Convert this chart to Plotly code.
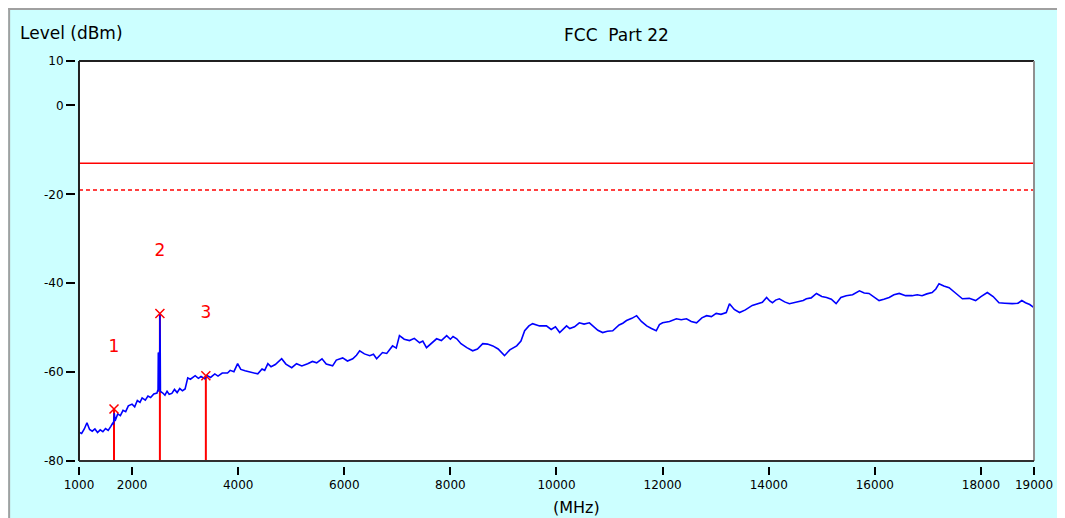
import plotly.graph_objects as go

# ---------------- data ----------------
freq_mhz = [1000, 1050, 1100, 1150, 1200, 1250, 1300, 1350, 1400, 1450, 1500, 1550, 1600, 1640,
            1650, 1655, 1660, 1665, 1680, 1730, 1780, 1830, 1880, 1930, 2000, 2050, 2100, 2150, 2190, 2250, 2300,
            2350, 2410, 2470, 2480, 2485, 2490, 2495, 2500, 2505, 2510, 2515, 2520, 2525, 2530, 2535, 2540,
            2580, 2620, 2660, 2700,
            2750, 2800, 2850, 2900, 2950, 3000, 3050, 3100, 3190, 3250, 3300, 3370, 3420, 3480,
            3560, 3620, 3700, 3800, 3850, 3920, 3990, 4050, 4130, 4200, 4280, 4370, 4450, 4500,
            4560, 4620, 4700, 4820, 4900, 5010, 5100, 5200, 5310, 5400, 5480, 5580, 5660, 5780,
            5850, 5970, 6060, 6160, 6230, 6290, 6380, 6480, 6550, 6610, 6720, 6800, 6910, 6980,
            7040, 7130, 7230, 7320, 7420, 7480, 7550, 7640, 7740, 7830, 7930, 8000, 8050, 8120,
            8200, 8310, 8420, 8510, 8610, 8700, 8800, 8900, 9020, 9120, 9250, 9330, 9400, 9480,
            9550, 9680, 9810, 9900, 9980, 10060, 10130, 10190, 10250, 10340, 10430, 10520, 10620,
            10700, 10780, 10870, 10960, 11060, 11180, 11250, 11320, 11420, 11510, 11600, 11700,
            11790, 11880, 11940, 12000, 12130, 12260, 12350, 12450, 12540, 12640, 12740, 12830,
            12920, 13010, 13100, 13200, 13260, 13350, 13450, 13560, 13690, 13800, 13880, 13960,
            14020, 14070, 14130, 14200, 14300, 14390, 14480, 14580, 14650, 14710, 14800, 14900,
            15000, 15090, 15180, 15270, 15360, 15460, 15580, 15710, 15800, 15890, 16000, 16080,
            16170, 16270, 16360, 16460, 16580, 16700, 16800, 16890, 16980, 17080, 17150, 17210,
            17300, 17400, 17520, 17650, 17780, 17900, 18000, 18120, 18230, 18340, 18450, 18590,
            18700, 18770, 18840, 18920, 19000]
level_dbm = [-73.5, -73.8, -72.8, -71.4, -72.9, -73.3, -72.8, -73.6, -73.0, -73.4, -72.7, -73.1, -72.2, -71.4,
             -71.8, -69.5, -71.5, -69.2, -71.0, -69.4, -69.8, -68.6, -68.9, -67.6, -67.2, -67.8, -66.4, -66.8, -65.8, -66.3, -65.4,
             -65.7, -64.9, -64.7, -64.3, -55.6, -64.4, -55.6, -64.2, -55.6, -64.0, -55.4, -64.0, -46.8, -53.6, -64.4, -64.4,
             -64.7, -65.2, -64.3, -65.0,
             -64.8, -63.9, -64.6, -63.7, -64.2, -63.8, -61.3, -61.6, -60.8, -61.4, -61.0, -61.5, -60.8, -61.2,
             -60.4, -60.9, -60.2, -60.2, -59.6, -59.9, -58.1, -59.4, -59.7, -59.9, -60.1, -60.4, -59.3, -59.6,
             -58.1, -58.8, -58.3, -57.0, -58.2, -59.0, -58.1, -58.6, -58.1, -57.6, -57.9, -57.0, -58.2, -58.6,
             -57.3, -56.8, -57.5, -57.0, -56.2, -55.2, -55.9, -56.3, -56.0, -57.0, -55.6, -55.8, -54.1, -54.6,
             -51.8, -52.6, -52.9, -52.4, -53.4, -53.0, -54.5, -53.6, -52.5, -52.9, -51.8, -52.6, -52.0, -52.5,
             -53.6, -54.5, -55.2, -54.8, -53.6, -53.7, -54.1, -54.8, -56.3, -55.0, -54.1, -53.0, -50.7, -49.6,
             -49.1, -49.6, -49.6, -50.4, -49.8, -51.1, -50.2, -49.6, -50.2, -49.8, -48.9, -49.2, -48.9,
             -49.8, -50.6, -51.1, -50.8, -50.7, -49.4, -49.0, -48.4, -47.9, -47.3, -48.6, -49.6,
             -50.2, -50.7, -49.3, -48.9, -48.6, -48.0, -48.2, -48.0, -48.6, -48.9, -47.8, -47.3,
             -47.5, -46.8, -47.0, -46.6, -44.6, -45.9, -46.6, -46.0, -45.0, -44.6, -44.3, -43.2,
             -44.0, -44.4, -43.8, -43.5, -44.2, -44.6, -44.3, -44.0, -43.9, -43.5, -43.3, -42.3,
             -43.0, -43.2, -43.6, -44.6, -43.2, -42.8, -42.6, -41.7, -42.2, -42.3, -43.2, -43.9,
             -43.6, -43.2, -42.6, -42.3, -42.8, -42.8, -42.6, -42.8, -42.4, -42.1, -41.3, -40.1,
             -40.6, -41.0, -42.2, -43.5, -43.4, -43.9, -43.0, -42.1, -43.0, -44.4, -44.5, -44.6,
             -44.5, -43.9, -44.4, -44.8, -45.5]

marker_ids = ["1", "2", "3"]
marker_freq = [1660, 2525, 3391]
marker_level = [-68.3, -46.8, -60.8]
marker_label_level = [-54.5, -33.0, -46.8]

limit_level = -13.0
margin_level = -19.0
freq_range = [1000, 19000]
level_range = [-80, 10]

y_tickvals = [10, 0, -20, -40, -60, -80]
y_ticktext = ["10", "0", "-20", "-40", "-60", "-80"]
x_tickvals = [1000, 2000, 4000, 6000, 8000, 10000, 12000, 14000, 16000, 18000, 19000]
x_ticktext = [str(v) for v in x_tickvals]

title_text = "FCC  Part 22"
y_title_text = "Level (dBm)"
x_title_text = "(MHz)"

# ---------------- layout geometry (figure pixels; page has 8px body margin) ----------------
W, H = 1057, 510
ML, MR, MT, MB = 67, 29, 53, 52
PW, PH = W - ML - MR, H - MT - MB
PL, PR, PT, PB = 71, 1028, 53, 453   # plot box


def px(x):  # figure pixel -> paper x
    return (x - ML) / PW


def py(y):  # figure pixel -> paper y
    return (H - MB - y) / PH


FONT = "DejaVu Sans"
RED = "#FF0000"
BLUE = "#0000FF"

fig = go.Figure()

# red marker stems
stem_x, stem_y = [], []
for f, lv in zip(marker_freq, marker_level):
    stem_x += [f, f, None]
    stem_y += [level_range[0], lv, None]
fig.add_trace(go.Scatter(x=stem_x, y=stem_y, mode="lines",
                         line=dict(color=RED, width=2), hoverinfo="skip", showlegend=False))

# limit lines
fig.add_trace(go.Scatter(x=freq_range, y=[limit_level, limit_level], mode="lines",
                         line=dict(color=RED, width=1.5), showlegend=False))
fig.add_trace(go.Scatter(x=freq_range, y=[margin_level, margin_level], mode="lines",
                         line=dict(color=RED, width=1.5, dash="4px,3px"), showlegend=False))

# measured trace
fig.add_trace(go.Scatter(x=freq_mhz, y=level_dbm, mode="lines",
                         line=dict(color=BLUE, width=1.6), showlegend=False))

# marker crosses
fig.add_trace(go.Scatter(x=marker_freq, y=marker_level, mode="markers",
                         marker=dict(symbol="x-thin", size=9, line=dict(color=RED, width=1.5)),
                         showlegend=False))

# marker numbers
fig.add_trace(go.Scatter(x=marker_freq, y=marker_label_level, mode="text", text=marker_ids,
                         textfont=dict(family=FONT, size=17, color=RED), showlegend=False))

shapes = [
    # grey frame of the cyan panel (left, top, right)
    dict(type="line", xref="paper", yref="paper", x0=px(1), x1=px(1), y0=py(H), y1=py(0),
         line=dict(color="#A0A0A0", width=2)),
    dict(type="line", xref="paper", yref="paper", x0=px(0), x1=px(1055), y0=py(1), y1=py(1),
         line=dict(color="#A0A0A0", width=2)),
    dict(type="line", xref="paper", yref="paper", x0=px(1055), x1=px(1055), y0=py(H), y1=py(0),
         line=dict(color="#A0A0A0", width=1.5)),
    # white plot area
    dict(type="rect", xref="paper", yref="paper", x0=px(PL), x1=px(PR), y0=py(PB), y1=py(PT),
         fillcolor="white", line=dict(width=0), layer="below"),
    # plot frame: top & left black, right grey, bottom dark
    dict(type="line", xref="paper", yref="paper", x0=px(PL), x1=px(PR), y0=py(PT), y1=py(PT),
         line=dict(color="#202020", width=2)),
    dict(type="line", xref="paper", yref="paper", x0=px(PL), x1=px(PL), y0=py(PB), y1=py(PT),
         line=dict(color="#202020", width=2)),
    dict(type="line", xref="paper", yref="paper", x0=px(PR), x1=px(PR), y0=py(PB), y1=py(PT),
         line=dict(color="#909090", width=2)),
    dict(type="line", xref="paper", yref="paper", x0=px(PL), x1=px(PR), y0=py(PB), y1=py(PB),
         line=dict(color="#303030", width=2)),
]

annotations = [
    dict(text=title_text, xref="paper", yref="paper", x=px(610), y=py(27), showarrow=False,
         xanchor="center", yanchor="middle", font=dict(family=FONT, size=17, color="black")),
    dict(text=y_title_text, xref="paper", yref="paper", x=px(10), y=py(25), showarrow=False,
         xanchor="left", yanchor="middle", font=dict(family=FONT, size=17, color="black")),
    dict(text=x_title_text, xref="paper", yref="paper", x=px(570), y=py(499), showarrow=False,
         xanchor="center", yanchor="middle", font=dict(family=FONT, size=16, color="black")),
]

fig.update_layout(
    width=W, height=H,
    margin=dict(l=ML, r=MR, t=MT, b=MB, pad=0),
    paper_bgcolor="#CCFFFF",
    plot_bgcolor="rgba(0,0,0,0)",
    showlegend=False,
    shapes=shapes,
    annotations=annotations,
    xaxis=dict(domain=[px(PL), 1], range=freq_range, anchor="free", position=0,
               showgrid=False, zeroline=False, showline=False,
               tickmode="array", tickvals=x_tickvals, ticktext=x_ticktext,
               ticks="outside", ticklen=8, tickwidth=1.5, tickcolor="black",
               tickfont=dict(family=FONT, size=12, color="black")),
    yaxis=dict(domain=[py(PB), 1], range=level_range, anchor="free", position=0,
               showgrid=False, zeroline=False, showline=False,
               tickmode="array", tickvals=y_tickvals, ticktext=y_ticktext,
               ticks="outside", ticklen=9, tickwidth=1.5, tickcolor="black",
               tickfont=dict(family=FONT, size=12, color="black")),
)

fig.write_html("out.html")
